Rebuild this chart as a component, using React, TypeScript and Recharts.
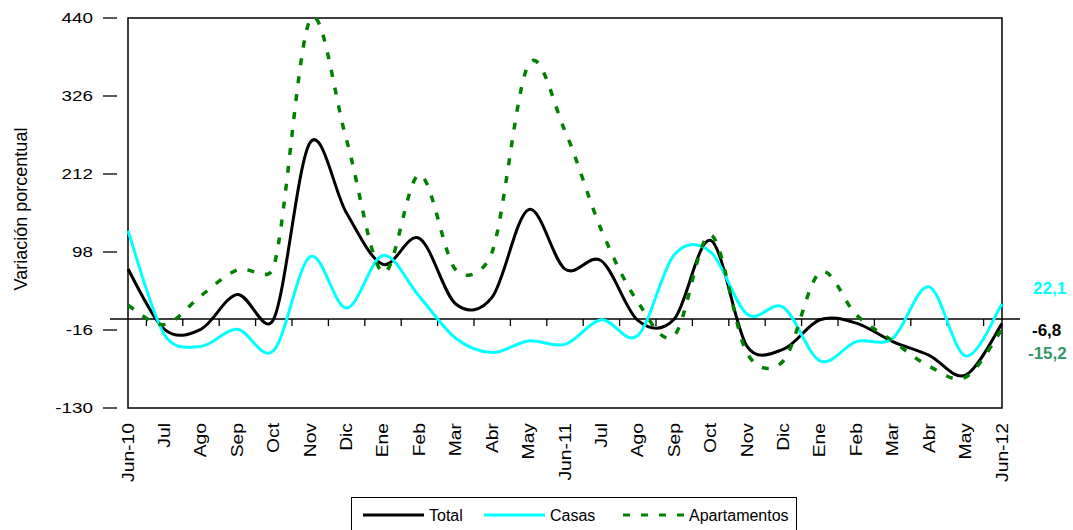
import React from "react";
import {
  LineChart,
  Line,
  XAxis,
  YAxis,
  ReferenceLine,
  ReferenceArea,
  Legend,
  Label,
  LabelList,
} from "recharts";

const months = [
  "Jun-10", "Jul", "Ago", "Sep", "Oct", "Nov", "Dic", "Ene", "Feb", "Mar", "Abr", "May",
  "Jun-11", "Jul", "Ago", "Sep", "Oct", "Nov", "Dic", "Ene", "Feb", "Mar", "Abr", "May", "Jun-12",
];

const total = [
  73, -15, -15, 36, 0, 258, 155, 80, 118, 22, 32, 160,
  73, 85, -2, 0, 115, -40, -44, -1, -6, -33, -53, -82, -6.8,
];

const casas = [
  129, -23, -40, -15, -46, 91, 16, 93, 33, -28, -49, -32,
  -37, -1, -24, 94, 98, 7, 17, -61, -33, -28, 47, -54, 22.1,
];

const apartamentos = [
  20, -8, 34, 72, 76, 437, 262, 68, 211, 72, 98, 372,
  275, 130, 25, -24, 123, -50, -61, 68, 6, -32, -69, -85, -15.2,
];

const yTicks = [-130, -16, 98, 212, 326, 440];

const data = months.map((month, i) => ({
  month,
  total: total[i],
  casas: casas[i],
  apartamentos: apartamentos[i],
}));

const FONT = '"Liberation Sans", Arial, sans-serif';

// Excel style smoothing: cardinal bezier, control arms capped at half the segment
function excelCurve(context: any) {
  let pts: number[][] = [];
  const arm = (a: number[], b: number[], p: number[], q: number[]) => {
    let dx = (b[0] - a[0]) / 6;
    let dy = (b[1] - a[1]) / 6;
    const len = Math.hypot(dx, dy);
    const lim = Math.hypot(q[0] - p[0], q[1] - p[1]) / 2;
    if (len > lim && len > 0) {
      dx *= lim / len;
      dy *= lim / len;
    }
    return [dx, dy];
  };
  return {
    areaStart() {},
    areaEnd() {},
    lineStart() {
      pts = [];
    },
    point(x: number, y: number) {
      pts.push([+x, +y]);
    },
    lineEnd() {
      const n = pts.length;
      if (!n) return;
      context.moveTo(pts[0][0], pts[0][1]);
      for (let i = 0; i < n - 1; i++) {
        const p0 = pts[i - 1] || pts[i];
        const p1 = pts[i];
        const p2 = pts[i + 1];
        const p3 = pts[i + 2] || pts[i + 1];
        const a1 = arm(p0, p2, p1, p2);
        const a2 = arm(p1, p3, p1, p2);
        context.bezierCurveTo(p1[0] + a1[0], p1[1] + a1[1], p2[0] - a2[0], p2[1] - a2[1], p2[0], p2[1]);
      }
    },
  };
}

const YTick = ({ x, y, payload }: any) => (
  <g>
    <line x1={x - 7} x2={x + 7} y1={y} y2={y} stroke="#000" strokeWidth={1.3} />
    <text
      transform={`translate(${x - 17},${y}) scale(1.3,1)`}
      textAnchor="end"
      dominantBaseline="central"
      fontSize={14.5}
      fontFamily={FONT}
      fill="#000"
    >
      {payload.value}
    </text>
  </g>
);

const XTick = ({ x, y, payload }: any) => (
  <text
    transform={`translate(${x},${y + 15}) rotate(-90) scale(1.17,1)`}
    textAnchor="end"
    dominantBaseline="central"
    fontSize={16.5}
    fontFamily={FONT}
    fill="#000"
  >
    {payload.value}
  </text>
);

// zero line with Excel style tick marks between categories
const ZeroAxis = (p: any) => {
  const band = (p.x2 - p.x1) / months.length;
  return (
    <g>
      <line x1={p.x1} y1={p.y1} x2={p.x2} y2={p.y2} stroke="#000" strokeWidth={1.5} />
      {months.slice(1).map((_, i) => (
        <line
          key={i}
          x1={p.x1 + band * (i + 1)}
          x2={p.x1 + band * (i + 1)}
          y1={p.y1}
          y2={p.y1 + 7}
          stroke="#000"
          strokeWidth={1.3}
        />
      ))}
    </g>
  );
};

const endLabel = (color: string, dx: number, dy: number) => (p: any) => {
  if (p.index !== months.length - 1) return null;
  return (
    <text
      x={p.x + dx}
      y={p.y + dy}
      dominantBaseline="central"
      fontSize={17}
      fontWeight="bold"
      fontFamily={FONT}
      fill={color}
    >
      {Number(p.value).toFixed(1).replace(".", ",")}
    </text>
  );
};

const legendItems = [
  { name: "Total", color: "#000", dash: undefined, x: 11 },
  { name: "Casas", color: "#00FFFF", dash: undefined, x: 132 },
  { name: "Apartamentos", color: "#008000", dash: "7 11", x: 271 },
];

const LegendBox = () => (
  <div style={{ width: 446, height: 34, border: "1px solid #000", background: "#fff", boxSizing: "border-box" }}>
    <svg width={446} height={34}>
      {legendItems.map((it) => (
        <g key={it.name}>
          <line
            x1={it.x}
            x2={it.x + 61}
            y1={17}
            y2={17}
            stroke={it.color}
            strokeWidth={3}
            strokeDasharray={it.dash}
          />
          <text x={it.x + 66} y={17} dominantBaseline="central" fontSize={16} fontFamily={FONT} fill="#000">
            {it.name}
          </text>
        </g>
      ))}
    </svg>
  </div>
);

export default function App() {
  return (
    <div style={{ position: "absolute", left: 0, top: 0, background: "#fff" }}>
      <LineChart width={1073} height={530} data={data} margin={{ top: 18, right: 53, bottom: 0, left: 0 }}>
        <XAxis
          dataKey="month"
          height={122}
          interval={0}
          padding={{ left: 18, right: 18 }}
          tickLine={false}
          axisLine={false}
          tickSize={0}
          tickMargin={0}
          tick={<XTick />}
        />
        <YAxis
          type="number"
          width={110}
          domain={[-130, 440]}
          ticks={yTicks}
          interval={0}
          tickLine={false}
          axisLine={false}
          tickSize={0}
          tickMargin={0}
          tick={<YTick />}
        >
          <Label
            content={() => (
              <text
                transform="translate(21,209) rotate(-90)"
                textAnchor="middle"
                dominantBaseline="central"
                fontSize={18}
                fontFamily={FONT}
                fill="#000"
              >
                Variación porcentual
              </text>
            )}
          />
        </YAxis>
        <ReferenceArea y1={-130} y2={440} stroke="#000" strokeWidth={1.5} fill="none" fillOpacity={0} />
        <ReferenceLine y={0} shape={ZeroAxis} />
        <Line
          dataKey="total"
          name="Total"
          type={excelCurve as any}
          stroke="#000"
          strokeWidth={3}
          dot={false}
          activeDot={false}
          isAnimationActive={false}
        >
          <LabelList dataKey="total" content={endLabel("#000", 30, 7)} />
        </Line>
        <Line
          dataKey="casas"
          name="Casas"
          type={excelCurve as any}
          stroke="#00FFFF"
          strokeWidth={3}
          dot={false}
          activeDot={false}
          isAnimationActive={false}
        >
          <LabelList dataKey="casas" content={endLabel("#00FFFF", 31, -15)} />
        </Line>
        <Line
          dataKey="apartamentos"
          name="Apartamentos"
          type={excelCurve as any}
          stroke="#008000"
          strokeWidth={3.5}
          strokeDasharray="7 11"
          dot={false}
          activeDot={false}
          isAnimationActive={false}
        >
          <LabelList dataKey="apartamentos" content={endLabel("#339966", 26, 24)} />
        </Line>
        <Legend
          layout="vertical"
          verticalAlign="middle"
          align="center"
          wrapperStyle={{ left: 351, top: 497, width: 446, height: 34 }}
          content={<LegendBox />}
        />
      </LineChart>
    </div>
  );
}
